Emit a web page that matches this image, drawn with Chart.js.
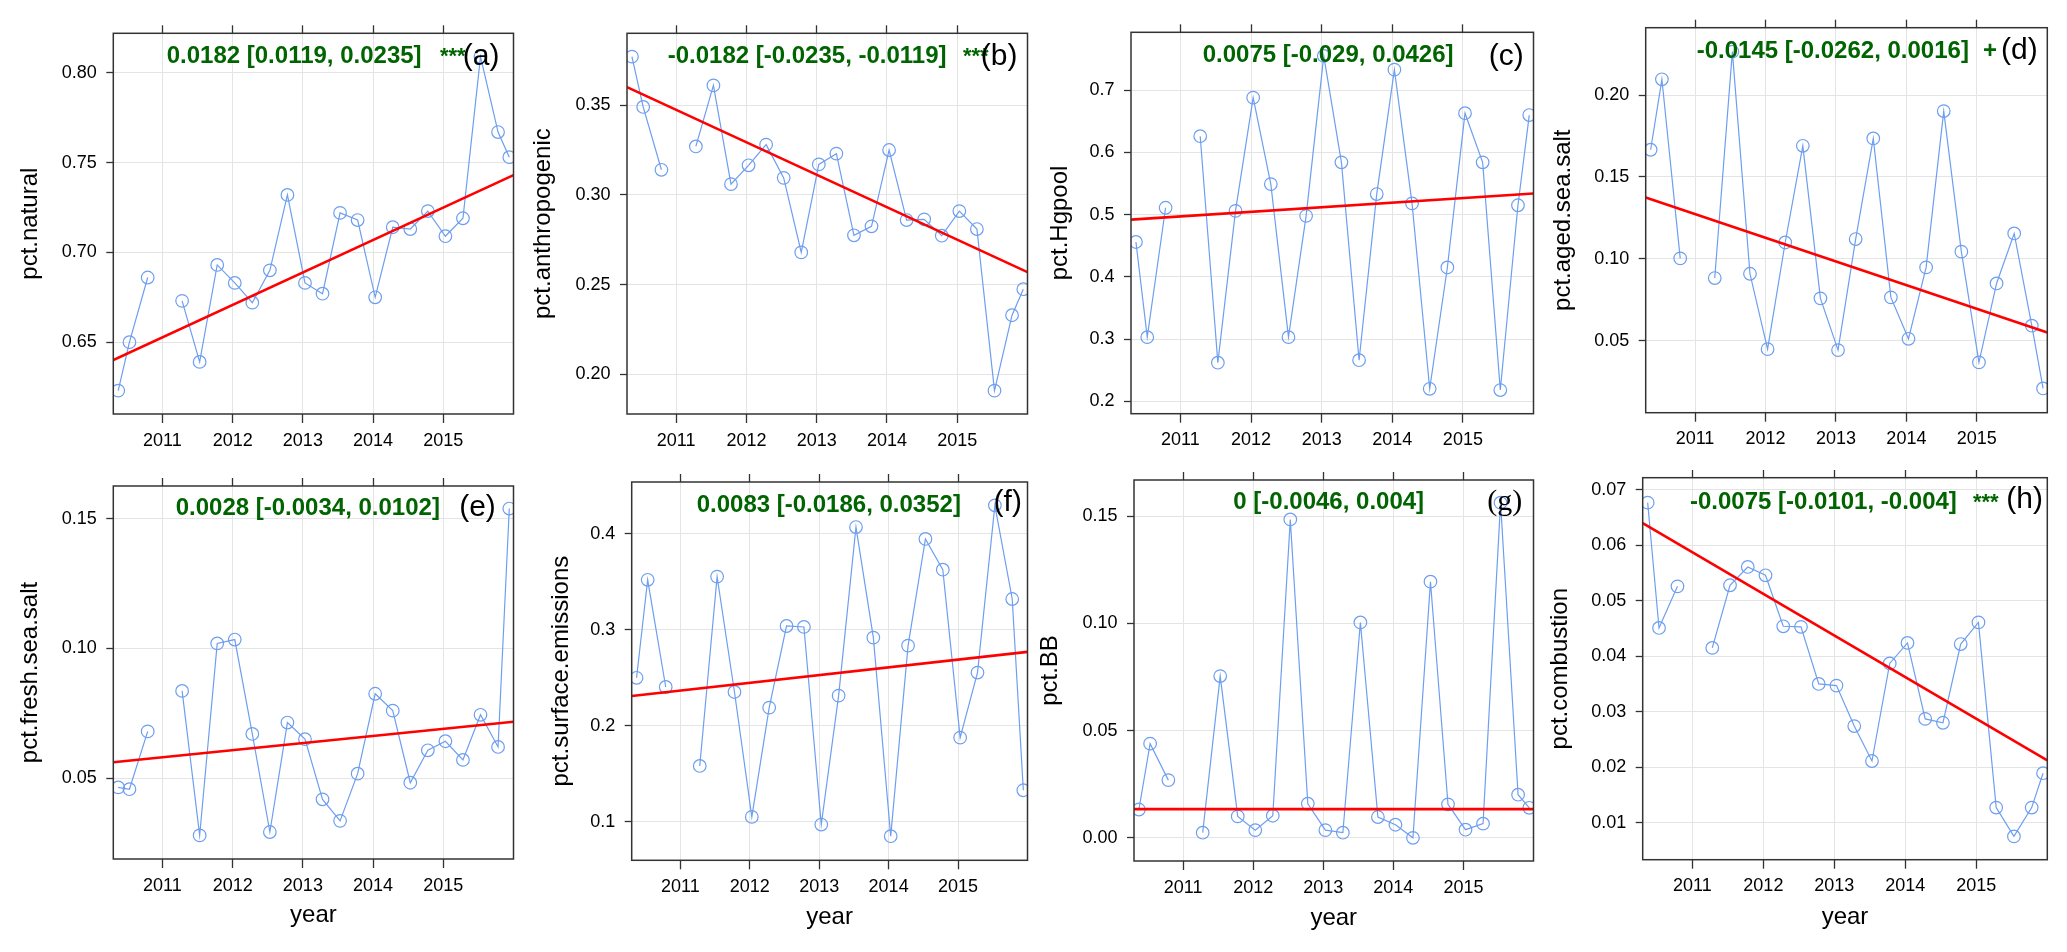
<!DOCTYPE html>
<html><head><meta charset="utf-8">
<script src="https://cdn.jsdelivr.net/npm/chart.js@4/dist/chart.umd.min.js"></script>
<style>
html,body{margin:0;padding:0;background:#fff;width:2067px;height:952px;overflow:hidden}
canvas{position:absolute}
</style></head><body>
<script>
// ---------- data ----------
const seasonYears = [2010.37, 2010.53, 2010.79, 2011.04, 2011.28, 2011.53, 2011.78, 2012.03,
  2012.28, 2012.53, 2012.78, 2013.03, 2013.28, 2013.53, 2013.78, 2014.03,
  2014.28, 2014.53, 2014.78, 2015.03, 2015.28, 2015.53, 2015.78, 2015.94];

const pctNatural = [0.623, 0.650, 0.686, null, 0.673, 0.639, 0.693, 0.683, 0.672, 0.690, 0.732, 0.683,
  0.677, 0.722, 0.718, 0.675, 0.714, 0.713, 0.723, 0.709, 0.719, 0.809, 0.767, 0.753];
const pctAnthropogenic = [0.377, 0.349, 0.314, null, 0.327, 0.361, 0.306, 0.3165, 0.328, 0.3095, 0.268, 0.317,
  0.323, 0.2775, 0.2825, 0.325, 0.286, 0.2864, 0.2773, 0.291, 0.281, 0.191, 0.233, 0.2475];
const pctHgpool = [0.456, 0.303, 0.511, null, 0.626, 0.262, 0.506, 0.688, 0.549, 0.303, 0.498, 0.755,
  0.584, 0.266, 0.533, 0.733, 0.518, 0.220, 0.415, 0.663, 0.584, 0.218, 0.515, 0.660];
const pctAgedSeaSalt = [0.1666, 0.2096, 0.1003, null, 0.0883, 0.2265, 0.0909, 0.0449, 0.110, 0.169, 0.0759, 0.0443,
  0.1121, 0.1735, 0.0765, 0.0512, 0.0948, 0.1902, 0.1044, 0.0368, 0.085, 0.1155, 0.0592, 0.0209];
const pctFreshSeaSalt = [0.0464, 0.0457, 0.068, null, 0.0836, 0.0279, 0.1019, 0.1034, 0.067, 0.0292, 0.0714, 0.065,
  0.0418, 0.0335, 0.0517, 0.0825, 0.076, 0.0482, 0.0607, 0.0642, 0.057, 0.0744, 0.062, 0.1539];
const pctSurfaceEmissions = [0.250, 0.352, 0.2404, null, 0.1582, 0.3553, 0.2352, 0.1052, 0.2189, 0.3039, 0.3029, 0.0972,
  0.2314, 0.4069, 0.2918, 0.0851, 0.2835, 0.3945, 0.3625, 0.1877, 0.2554, 0.4295, 0.332, 0.1329];
const pctBB = [0.0132, 0.0439, 0.0269, null, 0.0024, 0.0754, 0.0100, 0.0036, 0.0103, 0.1484, 0.0159, 0.0036,
  0.0024, 0.1004, 0.0097, 0.0061, 0.0000, 0.1194, 0.0156, 0.0038, 0.0066, 0.1562, 0.0201, 0.0140];
const pctCombustion = [0.0677, 0.0451, 0.0526, null, 0.0415, 0.0528, 0.0561, 0.0546, 0.0454, 0.0453, 0.0350, 0.0347,
  0.0274, 0.0211, 0.0387, 0.0424, 0.0287, 0.0280, 0.0422, 0.0461, 0.0127, 0.0075, 0.0127, 0.0189];

// fitted trend line ends (at trendYears)
const trendYears = [2010.30, 2016.00];
const trendNatural = [0.640, 0.743];
const trendAnthropogenic = [0.360, 0.257];
const trendHgpool = [0.492, 0.534];
const trendAgedSeaSalt = [0.1375, 0.0551];
const trendFreshSeaSalt = [0.0561, 0.0717];
const trendSurfaceEmissions = [0.231, 0.277];
const trendBB = [0.0134, 0.0134];
const trendCombustion = [0.064, 0.0212];

// tick labels
const yearTicks = [2011, 2012, 2013, 2014, 2015];
const ticksNatural = ['0.65', '0.70', '0.75', '0.80'];
const ticksAnthropogenic = ['0.20', '0.25', '0.30', '0.35'];
const ticksHgpool = ['0.2', '0.3', '0.4', '0.5', '0.6', '0.7'];
const ticksAgedSeaSalt = ['0.05', '0.10', '0.15', '0.20'];
const ticksFreshSeaSalt = ['0.05', '0.10', '0.15'];
const ticksSurfaceEmissions = ['0.1', '0.2', '0.3', '0.4'];
const ticksBB = ['0.00', '0.05', '0.10', '0.15'];
const ticksCombustion = ['0.01', '0.02', '0.03', '0.04', '0.05', '0.06', '0.07'];

// slope annotations
const slopeTexts = ['0.0182 [0.0119, 0.0235]', '-0.0182 [-0.0235, -0.0119]', '0.0075 [-0.029, 0.0426]',
  '-0.0145 [-0.0262, 0.0016]', '0.0028 [-0.0034, 0.0102]', '0.0083 [-0.0186, 0.0352]',
  '0 [-0.0046, 0.004]', '-0.0075 [-0.0101, -0.004]'];
const sigMarks = ['***', '***', '', '+', '', '', '', '***'];
const panelLabels = ['(a)', '(b)', '(c)', '(d)', '(e)', '(f)', '(g)', '(h)'];
const yTitles = ['pct.natural', 'pct.anthropogenic', 'pct.Hgpool', 'pct.aged.sea.salt',
  'pct.fresh.sea.salt', 'pct.surface.emissions', 'pct.BB', 'pct.combustion'];
const xTitle = 'year';

// ---------- layout / style ----------
const FONT = "'Liberation Sans', Arial, sans-serif";
const BLUE = '#6d9ef0';
const GRID = '#e4e4e4';
const GREEN = '#006400';
const xRange = [2010.30, 2016.00];

const panels = [
  {values: pctNatural, trend: trendNatural, yTicks: ticksNatural, yMin: 0.610, yMax: 0.822,
   box: [0, 0, 521, 470], lw: 113.3, th: 33.3, bh: 56, rw: 2, ytPad: 15.6, bottomRow: false,
   tx: 53.4, ty: 30, sx: 326.7, lr: 14, ly: 32},
  {values: pctAnthropogenic, trend: trendAnthropogenic, yTicks: ticksAnthropogenic, yMin: 0.178, yMax: 0.390,
   box: [521, 0, 514, 470], lw: 106, th: 33.3, bh: 56, rw: 3.3, ytPad: 7.9, bottomRow: false,
   tx: 40.7, ty: 30, sx: 336, lr: 10, ly: 32},
  {values: pctHgpool, trend: trendHgpool, yTicks: ticksHgpool, yMin: 0.180, yMax: 0.793,
   box: [1035, 0, 506, 470], lw: 96, th: 32.3, bh: 56.3, rw: 3, ytPad: 10.6, bottomRow: false,
   tx: 71.7, ty: 30, sx: 0, lr: 9.7, ly: 33},
  {values: pctAgedSeaSalt, trend: trendAgedSeaSalt, yTicks: ticksAgedSeaSalt, yMin: 0.0061, yMax: 0.2411,
   box: [1541, 0, 526, 470], lw: 104.7, th: 27.7, bh: 57.3, rw: 19.7, ytPad: 7.9, bottomRow: false,
   tx: 51, ty: 30.6, sx: 337.3, lr: 9.6, ly: 31},
  {values: pctFreshSeaSalt, trend: trendFreshSeaSalt, yTicks: ticksFreshSeaSalt, yMin: 0.0188, yMax: 0.1626,
   box: [0, 470, 521, 482], lw: 113.3, th: 16, bh: 93, rw: 3.3, ytPad: 15.6, bottomRow: true, xtPad: 22,
   tx: 62.4, ty: 29.3, sx: 0, lr: 17.7, ly: 29.7},
  {values: pctSurfaceEmissions, trend: trendSurfaceEmissions, yTicks: ticksSurfaceEmissions, yMin: 0.060, yMax: 0.4538,
   box: [521, 470, 514, 482], lw: 110.7, th: 12, bh: 91.7, rw: 2.7, ytPad: 26.3, bottomRow: true, xtPad: 20.5,
   tx: 65, ty: 30, sx: 0, lr: 5.6, ly: 28.7},
  {values: pctBB, trend: trendBB, yTicks: ticksBB, yMin: -0.0108, yMax: 0.1668,
   box: [1035, 470, 506, 482], lw: 99, th: 10, bh: 91, rw: 1.7, ytPad: 0.6, bottomRow: true, xtPad: 19,
   tx: 99.3, ty: 29.3, sx: 0, lr: 11.3, ly: 29.9, serifLabel: true},
  {values: pctCombustion, trend: trendCombustion, yTicks: ticksCombustion, yMin: 0.0033, yMax: 0.0722,
   box: [1541, 470, 526, 482], lw: 101.7, th: 7.7, bh: 92.3, rw: 19.7, ytPad: 4.6, bottomRow: true, xtPad: 20.5,
   tx: 47.3, ty: 31, sx: 330.3, lr: 4.3, ly: 30.7}
];

const decor = {
  id: 'decor',
  afterDatasetsDraw(chart) {
    const a = chart.chartArea, ctx = chart.ctx;
    ctx.save();
    ctx.strokeStyle = '#333';
    ctx.lineWidth = 1.5;
    ctx.strokeRect(a.left, a.top, a.right - a.left, a.bottom - a.top);
    ctx.restore();
  },
  afterDraw(chart) {
    const a = chart.chartArea, ctx = chart.ctx;
    const o = chart.options.plugins.decor;
    ctx.save();
    ctx.textBaseline = 'alphabetic';
    ctx.textAlign = 'left';
    ctx.fillStyle = GREEN;
    ctx.font = "bold 24px " + FONT;
    ctx.fillText(o.slope, a.left + o.tx, a.top + o.ty);
    if (o.sig) {
      ctx.font = (o.sig === '+' ? "bold 24px " : "bold 22px ") + FONT;
      ctx.fillText(o.sig, a.left + o.sx, a.top + o.ty);
    }
    ctx.fillStyle = '#000';
    ctx.textAlign = 'right';
    ctx.font = o.serifLabel ? "30px 'Liberation Serif', 'Times New Roman', serif" : "30px " + FONT;
    ctx.fillText(o.label, a.right - o.lr, a.top + o.ly);
    ctx.restore();
  }
};

panels.forEach((p, k) => {
  const c = document.createElement('canvas');
  const [L, T, W, H] = p.box;
  c.width = W; c.height = H;
  c.style.left = L + 'px'; c.style.top = T + 'px';
  c.style.width = W + 'px'; c.style.height = H + 'px';
  document.body.appendChild(c);

  const pts = seasonYears.map((x, i) => ({x: x, y: p.values[i]}));
  const trend = trendYears.map((x, i) => ({x: x, y: p.trend[i]}));
  const yVals = p.yTicks.map(Number);

  new Chart(c, {
    type: 'line',
    data: {datasets: [
      {data: trend, borderColor: '#ff0000', borderWidth: 2.6, pointRadius: 0, clip: 0, tension: 0},
      {data: pts, borderColor: BLUE, borderWidth: 1.2, pointRadius: 6.3, pointHoverRadius: 6.3,
       pointBorderColor: BLUE, pointBackgroundColor: 'rgba(0,0,0,0)', pointBorderWidth: 1.2,
       spanGaps: false, clip: 0, tension: 0}
    ]},
    options: {
      responsive: false, animation: false, devicePixelRatio: 1, events: [],
      layout: {padding: {left: 0, top: 0, right: p.rw, bottom: 0}},
      plugins: {
        legend: {display: false}, tooltip: {enabled: false},
        decor: {slope: slopeTexts[k], sig: sigMarks[k], label: panelLabels[k],
                tx: p.tx, ty: p.ty, sx: p.sx, lr: p.lr, ly: p.ly, serifLabel: !!p.serifLabel}
      },
      scales: {
        x: {
          type: 'linear', position: 'bottom', min: xRange[0], max: xRange[1],
          afterBuildTicks: s => { s.ticks = yearTicks.map(v => ({value: v})); },
          afterFit: s => { s.height = p.bh; s.paddingLeft = 0; s.paddingRight = 0; },
          ticks: {font: {family: FONT, size: 18}, color: '#000', padding: 7, maxRotation: 0, autoSkip: false,
                  callback: (v, i) => String(yearTicks[i])},
          grid: {color: GRID, lineWidth: 1, tickLength: 9, tickColor: '#333', tickWidth: 1.3},
          border: {display: false},
          title: {display: p.bottomRow, text: xTitle, color: '#000', font: {family: FONT, size: 24},
                  padding: {top: 0, bottom: p.xtPad || 0}}
        },
        xTop: {
          type: 'linear', axis: 'x', position: 'top', min: xRange[0], max: xRange[1],
          afterBuildTicks: s => { s.ticks = yearTicks.map(v => ({value: v})); },
          afterFit: s => { s.height = p.th; s.paddingLeft = 0; s.paddingRight = 0; },
          ticks: {display: false},
          grid: {drawOnChartArea: false, tickLength: 8, tickColor: '#333', tickWidth: 1.3},
          border: {display: false}
        },
        y: {
          type: 'linear', position: 'left', min: p.yMin, max: p.yMax,
          afterBuildTicks: s => { s.ticks = yVals.map(v => ({value: v})); },
          afterFit: s => { s.width = p.lw; s.paddingTop = 0; s.paddingBottom = 0; },
          ticks: {font: {family: FONT, size: 18}, color: '#000', padding: 9.5, autoSkip: false,
                  callback: (v, i) => p.yTicks[i]},
          grid: {color: GRID, lineWidth: 1, tickLength: 7, tickColor: '#333', tickWidth: 1.3},
          border: {display: false},
          title: {display: true, text: yTitles[k], color: '#000', font: {family: FONT, size: 24},
                  padding: {top: p.ytPad, bottom: 0}}
        }
      }
    },
    plugins: [decor]
  });
});
</script>
</body></html>
